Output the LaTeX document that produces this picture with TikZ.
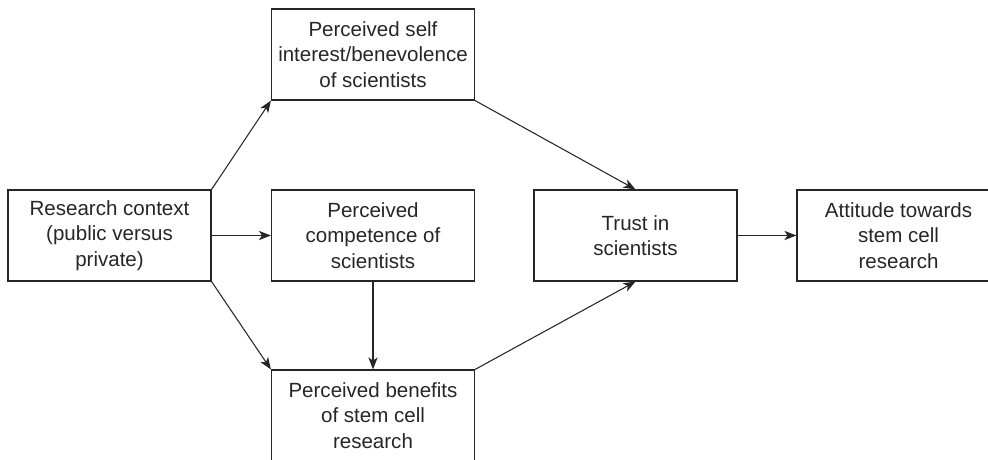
\documentclass[tikz,border=0pt]{standalone}
\usepackage{fontspec}
\setmainfont{Liberation Sans}
\usetikzlibrary{arrows.meta, positioning}

\begin{document}
\begin{tikzpicture}[
    x=0.025cm, y=-0.025cm,
    factor/.style={rectangle, align=center, draw=black!85, line width=0.8pt, minimum width=5.075cm, minimum height=2.275cm, inner sep=0pt, font=\fontsize{14.6}{18.2}\selectfont, text=black!85},
    link/.style={draw=black!85, line width=0.75pt, -{Stealth[length=3mm, width=2.3mm, inset=0.8mm]}},
]
    \useasboundingbox (0, 0) rectangle (988, 460);

    \node(context)[factor] at (109.5, 235.5) {Research context\\ (public versus\\ private)};
    \node(selfint)[factor] at (373, 54.5) {Perceived self\\ interest/benevolence\\ of scientists};
    \node(compet)[factor] at (373, 235.5) {Perceived\\ competence of\\ scientists};
    \node(benefit)[factor] at (373, 415.5) {Perceived benefits\\ of stem cell\\ research};
    \node(trust)[factor] at (635.5, 235.5) {Trust in\\ scientists};
    \node(attitude)[factor] at (898.5, 235.5) {Attitude towards\\ stem cell\\ research};

    \draw[link] (context.north east) -- (selfint.south west);
    \draw[link] (context.east) -- (compet.west);
    \draw[link] (context.south east) -- (benefit.north west);
    \draw[link] (compet.south) -- (benefit.north);
    \draw[link] (selfint.south east) -- (trust.north);
    \draw[link] (benefit.north east) -- (trust.south);
    \draw[link] (trust.east) -- (attitude.west);
\end{tikzpicture}
\end{document}
